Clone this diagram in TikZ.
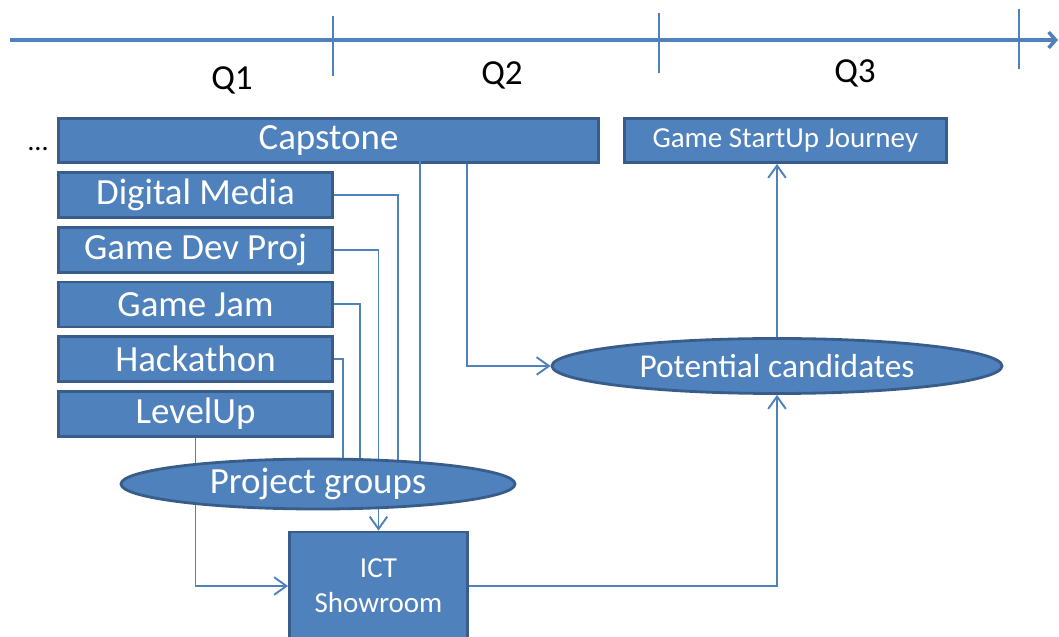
\documentclass[tikz,border=0pt]{standalone}
\usepackage{fontspec}
\setmainfont{Carlito}
\usetikzlibrary{positioning,shapes.geometric,arrows.meta}
\definecolor{boxfill}{HTML}{4F81BD}
\definecolor{boxline}{HTML}{385D8A}
\pgfdeclarelayer{front}
\pgfsetlayers{main,front}

\begin{document}
\begin{tikzpicture}[
  blk/.style={draw=boxline, fill=boxfill, line width=1.6pt, text=white, inner sep=0pt, font=\fontsize{21}{25}\selectfont},
  item/.style={blk, minimum width=5.48cm, minimum height=0.9cm},
  small/.style={font=\fontsize{16.5}{20}\selectfont},
  wire/.style={draw=boxfill, line width=1.1pt},
  tip/.style={-{Straight Barb[length=7pt,width=10pt]}},
  qlabel/.style={font=\fontsize{20}{24}\selectfont}
]
\useasboundingbox (0,0) rectangle (21.18,-12.74);

\draw[boxfill, line width=2pt, -{Straight Barb[length=4pt,width=9pt]}] (0.2,-0.8) -- (21.16,-0.8);
\foreach \x/\y in {6.66/-0.32, 13.18/-0.26, 20.38/-0.18}
  \draw[boxfill, line width=1.5pt] (\x,\y) -- ++(0,-1.2);

\node[qlabel] (Q1) at (4.64,-1.6) {Q1};
\node[qlabel] (Q2) at (10.04,-1.5) {Q2};
\node[qlabel] (Q3) at (17.1,-1.46) {Q3};

\node[blk, minimum width=10.8cm, minimum height=0.88cm] (C) at (6.57,-2.81) {Capstone};
\node[font=\fontsize{16}{19}\selectfont, anchor=base] (dots) at (0.76,-3.02) {\dots};

\node[blk, small, minimum width=6.44cm, minimum height=0.88cm, right=0.46cm of C] (J) {Game StartUp Journey};

\node[item, below=0.14cm of C.south west, anchor=north west] (DM) {Digital Media};
\node[item, below=0.14cm of DM] (GD) {Game Dev Proj};
\node[item, below=0.14cm of GD] (GJ) {Game Jam};
\node[item, below=0.14cm of GJ] (H) {Hackathon};
\node[item, below=0.14cm of H] (L) {LevelUp};

\node[blk, ellipse, minimum width=9cm, minimum height=1.1cm, font=\fontsize{19}{23}\selectfont] (P) at (15.54,-7.32) {Potential candidates};

\begin{pgfonlayer}{front}
\node[blk, ellipse, minimum width=7.88cm, minimum height=1.0cm] (G) at (6.36,-9.68) {Project groups};
\end{pgfonlayer}

\node[blk, small, minimum width=3.56cm, minimum height=2.16cm, align=center] (I) at (7.57,-11.72) {ICT\\Showroom};

\draw[wire] ([shift={(1.41,-0.13)}]C.center) -| ([xshift=2.04cm]G.center);
\draw[wire] (DM.east) -| ([xshift=1.6cm]G.center);
\draw[wire,tip] (GD.east) -| (I.north);
\draw[wire] (GJ.east) -| ([xshift=0.84cm]G.center);
\draw[wire] (H.east) -| ([xshift=0.5cm]G.center);
\draw[wire,tip] (L.south) |- (I.west);

\draw[wire,tip] ([xshift=2.77cm]C.south) |- (P.west);
\draw[wire,tip] (I.east) -| (P.south);
\draw[wire,tip] (P.north) -- (P.north |- J.south);

\end{tikzpicture}
\end{document}
